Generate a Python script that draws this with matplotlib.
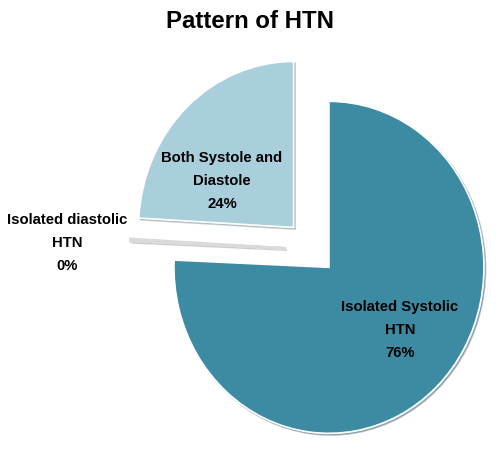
import matplotlib.pyplot as plt

# pie data (percent), drawn clockwise from 12 o'clock
labels = ['Isolated Systolic\nHTN\n76%', 'Isolated diastolic\nHTN\n0%', 'Both Systole and\nDiastole\n24%']
sizes = [75.7, 0.2, 24.1]
colors = ['#3d8ba3', '#d6d6d6', '#a9cedc']
explode = [24, 30, 31]  # pie explode is in data units

# label centres in pixels (origin top-left, like the picture)
label_px = [(400, 330), (67, 243), (222, 181)]

W, H = 500, 451
XSCALE = 166 / 155  # the original pie is a bit squashed horizontally


def main():
    fig = plt.figure(figsize=(W / 100, H / 100), dpi=100)
    ax = fig.add_axes([0, 0, 1, 1])
    wedges, _ = ax.pie(sizes, colors=colors, explode=explode, startangle=90,
                       counterclock=False, radius=166, center=(335.7, 201),
                       wedgeprops=dict(edgecolor='white', linewidth=1.2),
                       shadow=dict(ox=1.2, oy=-1.2, shade=0.4, alpha=0.35))
    # the 0% slice only shows as a soft grey line
    wedges[1].set_edgecolor('#dadada')
    wedges[1].set_linewidth(2.2)
    ax.set_aspect('auto')
    ax.set_xlim(0, W * XSCALE)
    ax.set_ylim(0, H)
    ax.axis('off')

    for lab, (px, py) in zip(labels, label_px):
        ax.text(px * XSCALE, H - py, lab, ha='center', va='center',
                fontsize=10.7, fontweight='bold', family='Liberation Sans',
                linespacing=1.8, color='black')

    ax.text(W * XSCALE / 2, H - 22, 'Pattern of HTN', ha='center',
            va='center', fontsize=17.3, fontweight='bold',
            family='Liberation Sans')

    fig.savefig('out.png', dpi=100)


if __name__ == '__main__':
    main()
